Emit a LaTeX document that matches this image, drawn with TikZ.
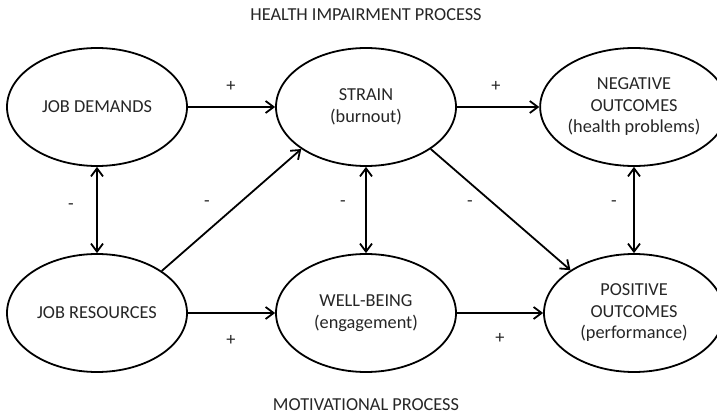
\documentclass[tikz,border=0pt]{standalone}
\usepackage{fontspec}
\setmainfont{Carlito}
\usetikzlibrary{arrows.meta,shapes.geometric}

\tikzset{
  construct/.style={draw, ellipse, line width=1.8pt, minimum width=180pt,
    minimum height=118pt, inner sep=0pt, align=center, text=black!85,
    font=\fontsize{18.3pt}{21.5pt}\selectfont},
  path/.style={line width=1.8pt, -{Straight Barb[length=8pt,width=12pt]}},
  twoway/.style={line width=1.8pt, {Straight Barb[length=8pt,width=12pt]}-{Straight Barb[length=8pt,width=12pt]}},
  sign/.style={font=\fontsize{18.3pt}{21.5pt}\selectfont, inner sep=0pt, text=black!85},
  heading/.style={font=\fontsize{18.3pt}{21.5pt}\selectfont, inner sep=0pt, text=black!85}
}

\begin{document}
\begin{tikzpicture}[x=1pt, y=-1pt]
  \useasboundingbox (0,0) rectangle (717,414);
  \clip (0,0) rectangle (717,414);
  \fill[white] (0,0) rectangle (717,414);

  % process headings
  \node[heading] (hip) at (366,15) {HEALTH IMPAIRMENT PROCESS};
  \node[heading] (mp)  at (366,405) {MOTIVATIONAL PROCESS};

  % constructs
  \node[construct] (jd)  at (97,107)  {JOB DEMANDS};
  \node[construct] (str) at (366,107) {STRAIN\\(burnout)};
  \node[construct] (neg) at (634,107) {NEGATIVE\\OUTCOMES\\(health problems)};
  \node[construct] (jr)  at (97,313)  {JOB RESOURCES};
  \node[construct] (wb)  at (366,313) {WELL-BEING\\(engagement)};
  \node[construct] (pos) at (634,313) {POSITIVE\\OUTCOMES\\(performance)};

  % paths
  \draw[path] (jd) -- (str);
  \draw[path] (str) -- (neg);
  \draw[path] (jr) -- (wb);
  \draw[path] (wb) -- (pos);
  \draw[path] (jr.33) -- (str.213);
  \draw[path] (str.327) -- (pos.146);
  \draw[twoway] (jd) -- (jr);
  \draw[twoway] (str) -- (wb);
  \draw[twoway] (neg) -- (pos);

  % signs of the paths
  \node[sign] (s1) at (231,86)  {+};
  \node[sign] (s2) at (496,86)  {+};
  \node[sign] (s3) at (231,340) {+};
  \node[sign] (s4) at (500,338) {+};
  \node[sign] (s5) at (71,207)  {-};
  \node[sign] (s6) at (207,204) {-};
  \node[sign] (s7) at (343,204) {-};
  \node[sign] (s8) at (470,204) {-};
  \node[sign] (s9) at (614,204) {-};
\end{tikzpicture}
\end{document}
